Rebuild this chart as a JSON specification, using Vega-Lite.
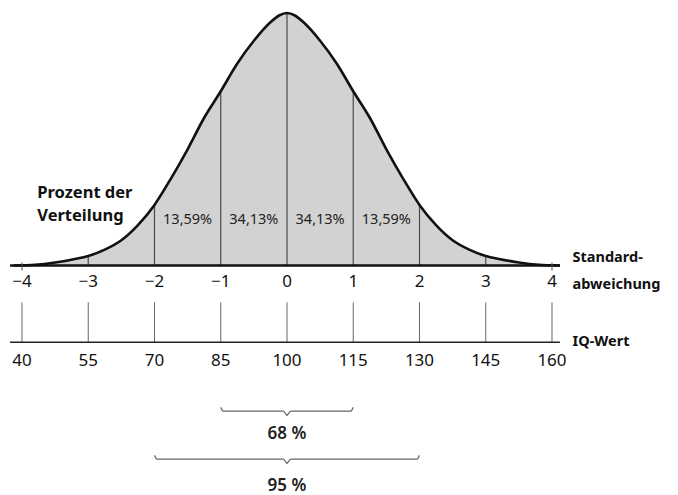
{
  "$schema": "https://vega.github.io/schema/vega-lite/v6.json",
  "width": 678,
  "height": 495,
  "autosize": {"type": "fit", "contains": "padding"},
  "padding": 0,
  "background": "white",
  "config": {"view": {"stroke": null}, "axis": {"disable": true}, "font": "Noto Sans"},
  "datasets": {
    "one": [{}],
    "curve": [
      {"sd": -4.12, "d": 0.0}, {"sd": -3.8, "d": 0.003}, {"sd": -3.5, "d": 0.012}, {"sd": -3.2, "d": 0.026},
      {"sd": -3.0, "d": 0.038}, {"sd": -2.75, "d": 0.063}, {"sd": -2.5, "d": 0.1}, {"sd": -2.25, "d": 0.16},
      {"sd": -2.0, "d": 0.24}, {"sd": -1.75, "d": 0.345}, {"sd": -1.5, "d": 0.46}, {"sd": -1.25, "d": 0.585},
      {"sd": -1.0, "d": 0.69}, {"sd": -0.75, "d": 0.8}, {"sd": -0.5, "d": 0.89}, {"sd": -0.25, "d": 0.963},
      {"sd": -0.12, "d": 0.99}, {"sd": 0.0, "d": 1.0}, {"sd": 0.12, "d": 0.99},
      {"sd": 0.25, "d": 0.963}, {"sd": 0.5, "d": 0.89}, {"sd": 0.75, "d": 0.8}, {"sd": 1.0, "d": 0.69},
      {"sd": 1.25, "d": 0.585}, {"sd": 1.5, "d": 0.46}, {"sd": 1.75, "d": 0.345}, {"sd": 2.0, "d": 0.24},
      {"sd": 2.25, "d": 0.16}, {"sd": 2.5, "d": 0.1}, {"sd": 2.75, "d": 0.063}, {"sd": 3.0, "d": 0.038},
      {"sd": 3.2, "d": 0.026}, {"sd": 3.5, "d": 0.012}, {"sd": 3.8, "d": 0.003}, {"sd": 4.12, "d": 0.0}
    ],
    "scale": [
      {"sd": -4, "sdLabel": "−4", "iq": "40", "d": 0.0},
      {"sd": -3, "sdLabel": "−3", "iq": "55", "d": 0.038},
      {"sd": -2, "sdLabel": "−2", "iq": "70", "d": 0.24},
      {"sd": -1, "sdLabel": "−1", "iq": "85", "d": 0.69},
      {"sd": 0, "sdLabel": "0", "iq": "100", "d": 1.0},
      {"sd": 1, "sdLabel": "1", "iq": "115", "d": 0.69},
      {"sd": 2, "sdLabel": "2", "iq": "130", "d": 0.24},
      {"sd": 3, "sdLabel": "3", "iq": "145", "d": 0.038},
      {"sd": 4, "sdLabel": "4", "iq": "160", "d": 0.0}
    ],
    "pct": [
      {"mid": -1.5, "label": "13,59%"},
      {"mid": -0.5, "label": "34,13%"},
      {"mid": 0.5, "label": "34,13%"},
      {"mid": 1.5, "label": "13,59%"}
    ]
  },
  "layer": [
    {
      "data": {"name": "curve"},
      "mark": {"type": "area", "fill": "#d2d2d2", "interpolate": "monotone"},
      "encoding": {
        "x": {"field": "sd", "type": "quantitative", "scale": {"domain": [-4.332, 5.902], "nice": false, "zero": false}},
        "y": {"field": "d", "type": "quantitative", "scale": {"domain": [-0.905, 1.0514], "nice": false, "zero": false}}
      }
    },
    {
      "data": {"name": "scale"},
      "transform": [{"filter": "abs(datum.sd) <= 3"}],
      "mark": {"type": "rule", "stroke": "#4a4a4a", "strokeWidth": 1.2},
      "encoding": {
        "x": {"field": "sd", "type": "quantitative"},
        "y": {"field": "d", "type": "quantitative"},
        "y2": {"datum": 0}
      }
    },
    {
      "data": {"name": "curve"},
      "mark": {"type": "line", "stroke": "#111", "strokeWidth": 2.6, "interpolate": "monotone"},
      "encoding": {
        "x": {"field": "sd", "type": "quantitative"},
        "y": {"field": "d", "type": "quantitative"}
      }
    },
    {
      "data": {"name": "one"},
      "mark": {"type": "rule", "stroke": "#111", "strokeWidth": 2.4},
      "encoding": {"x": {"datum": -4.18}, "x2": {"datum": 4.12}, "y": {"datum": 0}}
    },
    {
      "data": {"name": "scale"},
      "transform": [{"filter": "abs(datum.sd) == 4"}],
      "mark": {"type": "rule", "stroke": "#555", "strokeWidth": 1},
      "encoding": {"x": {"field": "sd", "type": "quantitative"}, "y": {"datum": 0.012}, "y2": {"datum": -0.02}}
    },
    {
      "data": {"name": "scale"},
      "mark": {"type": "text", "fontSize": 17, "baseline": "middle", "align": "center", "color": "#111"},
      "encoding": {"x": {"field": "sd", "type": "quantitative"}, "y": {"datum": -0.0672}, "text": {"field": "sdLabel"}}
    },
    {
      "data": {"name": "scale"},
      "mark": {"type": "rule", "stroke": "#666", "strokeWidth": 1},
      "encoding": {"x": {"field": "sd", "type": "quantitative"}, "y": {"datum": -0.146}, "y2": {"datum": -0.304}}
    },
    {
      "data": {"name": "one"},
      "mark": {"type": "rule", "stroke": "#222", "strokeWidth": 1.4},
      "encoding": {"x": {"datum": -4.18}, "x2": {"datum": 4.12}, "y": {"datum": -0.304}}
    },
    {
      "data": {"name": "scale"},
      "mark": {"type": "text", "fontSize": 17, "baseline": "middle", "align": "center", "color": "#111"},
      "encoding": {"x": {"field": "sd", "type": "quantitative"}, "y": {"datum": -0.379}, "text": {"field": "iq"}}
    },
    {
      "data": {"name": "pct"},
      "mark": {"type": "text", "fontSize": 14.5, "baseline": "middle", "align": "center", "color": "#222"},
      "encoding": {"x": {"field": "mid", "type": "quantitative"}, "y": {"datum": 0.182}, "text": {"field": "label"}}
    },
    {
      "data": {"name": "one"},
      "mark": {"type": "text", "text": ["Prozent der", "Verteilung"], "fontSize": 16.5, "fontWeight": "bold", "align": "left", "baseline": "middle", "lineHeight": 23, "color": "#111"},
      "encoding": {"x": {"datum": -3.77}, "y": {"datum": 0.289}}
    },
    {
      "data": {"name": "one"},
      "mark": {"type": "text", "text": ["Standard-", "abweichung"], "fontSize": 14.5, "fontWeight": "bold", "align": "left", "baseline": "middle", "lineHeight": 27, "color": "#111"},
      "encoding": {"x": {"datum": 4.31}, "y": {"datum": 0.03}}
    },
    {
      "data": {"name": "one"},
      "mark": {"type": "text", "text": "IQ-Wert", "fontSize": 14.5, "fontWeight": "bold", "align": "left", "baseline": "middle", "color": "#111"},
      "encoding": {"x": {"datum": 4.31}, "y": {"datum": -0.304}}
    },
    {
      "data": {"name": "one"},
      "mark": {"type": "rule", "stroke": "#666", "strokeWidth": 1.2},
      "encoding": {"x": {"datum": -0.97}, "x2": {"datum": -0.05}, "y": {"datum": -0.577}}
    },
    {
      "data": {"name": "one"},
      "mark": {"type": "rule", "stroke": "#666", "strokeWidth": 1.2},
      "encoding": {"x": {"datum": 0.05}, "x2": {"datum": 0.97}, "y": {"datum": -0.577}}
    },
    {
      "data": {"name": "one"},
      "mark": {"type": "rule", "stroke": "#666", "strokeWidth": 1.2},
      "encoding": {"x": {"datum": -1.0}, "x2": {"datum": -0.97}, "y": {"datum": -0.562}, "y2": {"datum": -0.577}}
    },
    {
      "data": {"name": "one"},
      "mark": {"type": "rule", "stroke": "#666", "strokeWidth": 1.2},
      "encoding": {"x": {"datum": 1.0}, "x2": {"datum": 0.97}, "y": {"datum": -0.562}, "y2": {"datum": -0.577}}
    },
    {
      "data": {"name": "one"},
      "mark": {"type": "rule", "stroke": "#666", "strokeWidth": 1.2},
      "encoding": {"x": {"datum": -0.05}, "x2": {"datum": 0}, "y": {"datum": -0.577}, "y2": {"datum": -0.595}}
    },
    {
      "data": {"name": "one"},
      "mark": {"type": "rule", "stroke": "#666", "strokeWidth": 1.2},
      "encoding": {"x": {"datum": 0.05}, "x2": {"datum": 0}, "y": {"datum": -0.577}, "y2": {"datum": -0.595}}
    },
    {
      "data": {"name": "one"},
      "mark": {"type": "text", "text": "68 %", "fontSize": 17, "fontWeight": 600, "align": "center", "baseline": "middle", "color": "#222"},
      "encoding": {"x": {"datum": 0}, "y": {"datum": -0.668}}
    },
    {
      "data": {"name": "one"},
      "mark": {"type": "rule", "stroke": "#666", "strokeWidth": 1.2},
      "encoding": {"x": {"datum": -1.97}, "x2": {"datum": -0.05}, "y": {"datum": -0.767}}
    },
    {
      "data": {"name": "one"},
      "mark": {"type": "rule", "stroke": "#666", "strokeWidth": 1.2},
      "encoding": {"x": {"datum": 0.05}, "x2": {"datum": 1.97}, "y": {"datum": -0.767}}
    },
    {
      "data": {"name": "one"},
      "mark": {"type": "rule", "stroke": "#666", "strokeWidth": 1.2},
      "encoding": {"x": {"datum": -2.0}, "x2": {"datum": -1.97}, "y": {"datum": -0.752}, "y2": {"datum": -0.767}}
    },
    {
      "data": {"name": "one"},
      "mark": {"type": "rule", "stroke": "#666", "strokeWidth": 1.2},
      "encoding": {"x": {"datum": 2.0}, "x2": {"datum": 1.97}, "y": {"datum": -0.752}, "y2": {"datum": -0.767}}
    },
    {
      "data": {"name": "one"},
      "mark": {"type": "rule", "stroke": "#666", "strokeWidth": 1.2},
      "encoding": {"x": {"datum": -0.05}, "x2": {"datum": 0}, "y": {"datum": -0.767}, "y2": {"datum": -0.785}}
    },
    {
      "data": {"name": "one"},
      "mark": {"type": "rule", "stroke": "#666", "strokeWidth": 1.2},
      "encoding": {"x": {"datum": 0.05}, "x2": {"datum": 0}, "y": {"datum": -0.767}, "y2": {"datum": -0.785}}
    },
    {
      "data": {"name": "one"},
      "mark": {"type": "text", "text": "95 %", "fontSize": 17, "fontWeight": 600, "align": "center", "baseline": "middle", "color": "#222"},
      "encoding": {"x": {"datum": 0}, "y": {"datum": -0.874}}
    }
  ]
}
